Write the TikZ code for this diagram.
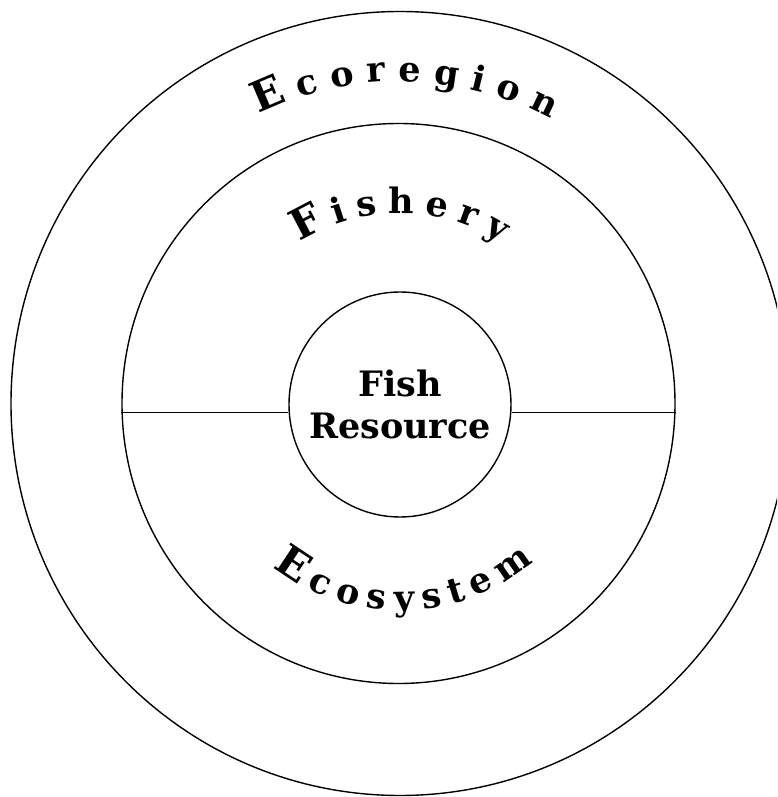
\documentclass[tikz,border=0pt]{standalone}
\usepackage{fontspec}
\setmainfont{DejaVu Serif}
\usetikzlibrary{shapes.geometric,decorations.text}
\newcommand\capfont{\fontsize{42}{42}\selectfont\bfseries}
\newcommand\lowfont{\fontsize{35}{35}\selectfont\bfseries}
\begin{document}
\begin{tikzpicture}[x=1pt,y=1pt,
  ring/.style={draw, ellipse, line width=1.4pt, inner sep=0pt},
  divider/.style={line width=1.4pt},
  arctext/.style={decorate, decoration={text along path, text align={fit to path}, text={#1}}}]
\useasboundingbox (-400,-393.5) rectangle (377,403.5);
\clip (-400,-393.5) rectangle (377,403.5);
\node[ring, minimum width=778pt, minimum height=784pt] (eco) at (0,0) {};
\node[ring, minimum width=553pt, minimum height=560pt] (fishery) at (-1.5,0) {};
\node[ring, minimum width=222pt, minimum height=225pt] (res) at (0,-1) {};
\node[align=center, inner sep=0pt, font=\fontsize{35}{42}\selectfont\bfseries] (restext) at (res.center) {Fish\\Resource};
\draw[divider] ([yshift=-9pt]fishery.west) -- ([yshift=-8pt]res.west);
\draw[divider] ([yshift=-8pt]res.east) -- ([yshift=-9pt]fishery.east);
\path[arctext={|\capfont|E|\lowfont|coregion}] (116:322pt) arc[start angle=116, end angle=62, radius=322pt];
\path[arctext={|\capfont|F|\lowfont|ishery}] (122:190pt) arc[start angle=122, end angle=58, radius=190pt];
\path[arctext={|\capfont|E|\lowfont|cosystem}] (232:207pt) arc[start angle=232, end angle=310, radius=207pt];
\end{tikzpicture}
\end{document}
